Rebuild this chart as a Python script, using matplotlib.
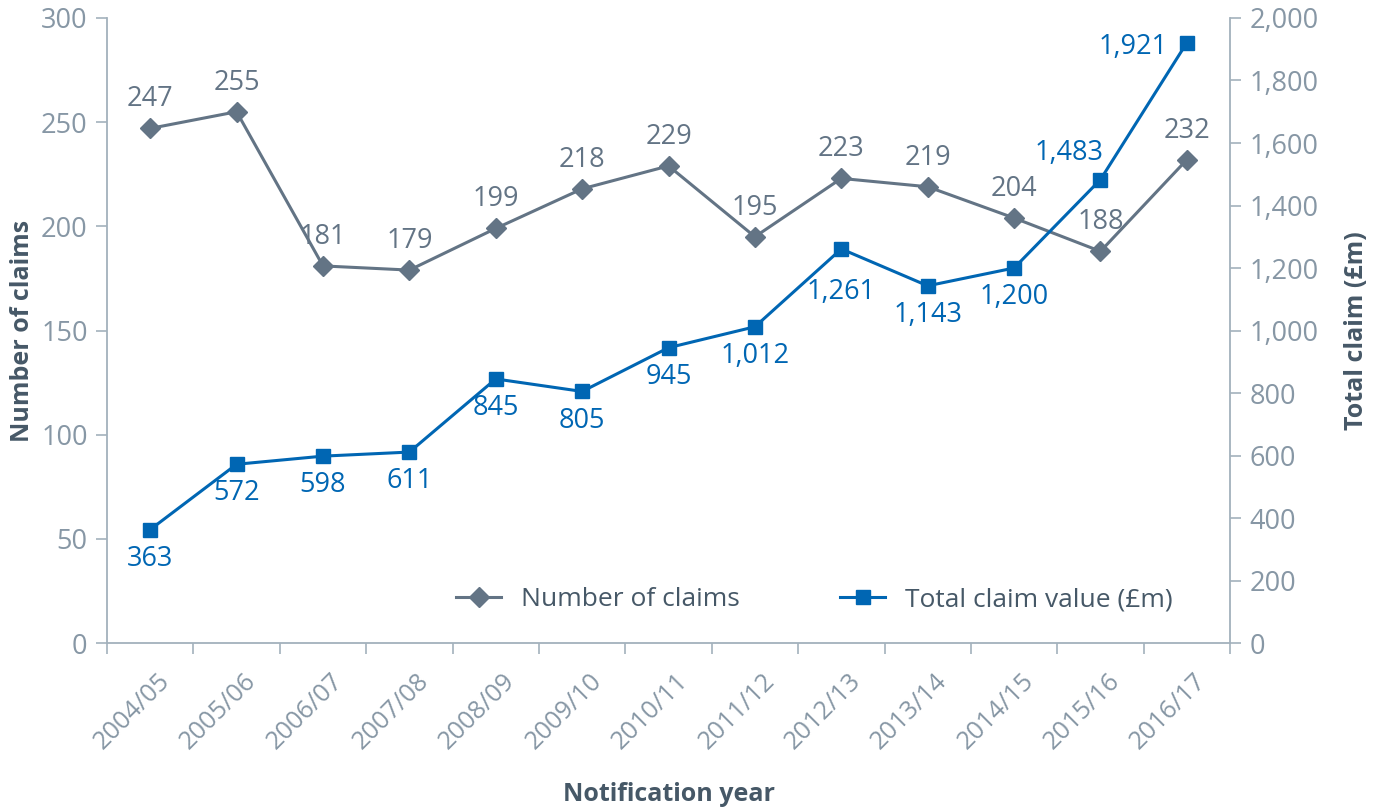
import matplotlib
matplotlib.use("Agg")
import matplotlib.pyplot as plt
from matplotlib.ticker import FuncFormatter, FixedLocator
from matplotlib.transforms import ScaledTranslation

plt.rcParams['font.family'] = ['Open Sans', 'DejaVu Sans']

years = ["2004/05", "2005/06", "2006/07", "2007/08", "2008/09", "2009/10", "2010/11",
         "2011/12", "2012/13", "2013/14", "2014/15", "2015/16", "2016/17"]
num_claims = [247, 255, 181, 179, 199, 218, 229, 195, 223, 219, 204, 188, 232]
claim_value = [363, 572, 598, 611, 845, 805, 945, 1012, 1261, 1143, 1200, 1483, 1921]

GRAY = "#637485"
BLUE = "#0066b3"
TICK = "#8797a5"
SPINE = "#a3b1bc"
TITLE = "#465867"
FS = 19.5

fig = plt.figure(figsize=(13.81, 8.07), dpi=100)
ax = fig.add_axes([0.0775, 0.2032, 0.8132, 0.7745])
ax2 = ax.twinx()

x = list(range(len(years)))
l1, = ax.plot(x, num_claims, color=GRAY, lw=2.2, marker='D', ms=10.5, label="Number of claims", zorder=3)
l2, = ax2.plot(x, claim_value, color=BLUE, lw=2.2, marker='s', ms=10, label="Total claim value (£m)", zorder=3)

ax.set_xlim(-0.5, len(years) - 0.5)
ax.set_ylim(0, 300)
ax2.set_ylim(0, 2000)
ax.set_yticks(range(0, 301, 50))
ax2.set_yticks(range(0, 2001, 200))
ax2.yaxis.set_major_formatter(FuncFormatter(lambda v, p: f"{int(v):,}"))

ax.xaxis.set_major_locator(FixedLocator([i - 0.5 for i in range(len(years) + 1)]))
ax.set_xticklabels([])
ax.set_xticks(x, minor=True)
ax.set_xticklabels(years, minor=True, rotation=45, ha='right', va='top', rotation_mode='anchor')
ax.tick_params(axis='x', which='minor', length=0, pad=18, labelsize=18.3, labelcolor=TICK)
ax.tick_params(axis='x', which='major', length=8, width=1.2, color=SPINE)
ax.tick_params(axis='y', length=8, width=1.2, color=SPINE, labelsize=FS, labelcolor=TICK, pad=6)
ax2.tick_params(axis='y', length=8, width=1.2, color=SPINE, labelsize=FS, labelcolor=TICK, pad=6)
shift = ScaledTranslation(0.07, 0, fig.dpi_scale_trans)
for lab in ax.get_xticklabels(minor=True):
    lab.set_transform(lab.get_transform() + shift)

for a in (ax, ax2):
    a.spines['top'].set_visible(False)
    for s in ('left', 'right', 'bottom'):
        a.spines[s].set_color(SPINE)
        a.spines[s].set_linewidth(1.3)
ax.spines['right'].set_visible(False)
ax2.spines['left'].set_visible(False)
ax2.spines['bottom'].set_visible(False)

ax.set_ylabel("Number of claims", fontsize=18, fontweight='bold', color=TITLE, labelpad=4)
ax2.set_ylabel("Total claim (£m)", fontsize=18, fontweight='bold', color=TITLE, labelpad=18)
ax.set_xlabel("Notification year", fontsize=18, fontweight='bold', color=TITLE, labelpad=20)

for i, v in enumerate(num_claims):
    ax.annotate(f"{v}", (i, v), xytext=(0, 21), textcoords='offset points',
                ha='center', va='center', fontsize=FS, color=GRAY)

for i, v in enumerate(claim_value):
    if i == len(claim_value) - 1:
        ax2.annotate(f"{v:,}", (i, v), xytext=(-14, -3), textcoords='offset points',
                     ha='right', va='center', fontsize=FS, color=BLUE)
    elif i == len(claim_value) - 2:
        ax2.annotate(f"{v:,}", (i, v), xytext=(2, 19), textcoords='offset points',
                     ha='right', va='center', fontsize=FS, color=BLUE)
    else:
        dy = -31 if i == 8 else -21
        ax2.annotate(f"{v:,}", (i, v), xytext=(0, dy), textcoords='offset points',
                     ha='center', va='center', fontsize=FS, color=BLUE)

leg = ax.legend([l1, l2], [l1.get_label(), l2.get_label()], loc='center',
                bbox_to_anchor=(0.63, 0.069), ncol=2, frameon=False, fontsize=19,
                handlelength=1.7, columnspacing=3.8, handletextpad=0.76)
for t in leg.get_texts():
    t.set_color(TITLE)

fig.savefig("out.png", dpi=100)
